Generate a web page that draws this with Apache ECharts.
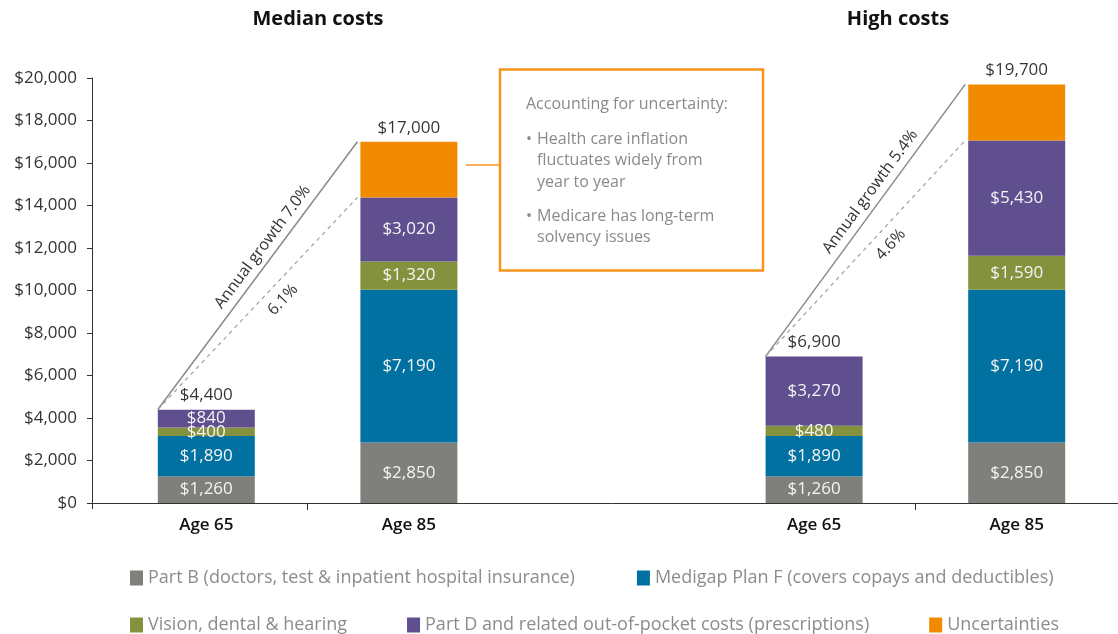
<!DOCTYPE html>
<html>
<head>
<meta charset="utf-8">
<title>Health care costs in retirement</title>
<script src="https://cdn.jsdelivr.net/npm/echarts@6/dist/echarts.min.js"></script>
<style>
  html, body { margin: 0; padding: 0; background: #fff; }
  #main { width: 1118px; height: 634px; }
</style>
</head>
<body>
<div id="main"></div>
<script>
// categories (the empty one is the gap between the two panels)
var ages = ['Age 65', 'Age 85', '', 'Age 65', 'Age 85'];
var panelTitles = ['Median costs', 'High costs'];

// yearly cost by component
var partB = [1260, 2850, null, 1260, 2850];
var medigap = [1890, 7190, null, 1890, 7190];
var vision = [400, 1320, null, 480, 1590];
var partD = [840, 3020, null, 3270, 5430];
var uncertainties = [null, 2620, null, null, 2640];
var totals = [4400, 17000, null, 6900, 19700];

var seriesNames = [
    'Part B (doctors, test & inpatient hospital insurance)',
    'Medigap Plan F (covers copays and deductibles)',
    'Vision, dental & hearing',
    'Part D and related out-of-pocket costs (prescriptions)',
    'Uncertainties'
];
var colors = ['#7f807b', '#0071a1', '#84923e', '#5f4f8e', '#f28a00'];

// growth lines: from / to category index
var growthPairs = [[0, 1], [3, 4]];
var growthSolid = ['Annual growth 7.0%', 'Annual growth 5.4%'];
var growthDashed = ['6.1%', '4.6%'];

var noteTitle = 'Accounting for uncertainty:';
var noteBullets = [
    ['Health care inflation', 'fluctuates widely from', 'year to year'],
    ['Medicare has long-term', 'solvency issues']
];

var yMin = 0, yMax = 20000, yStep = 2000;

var FONT = '"Open Sans", "Noto Sans", sans-serif';
var BAR_W = 97;

function money(v) {
    return '$' + Number(v).toLocaleString('en-US');
}

// top of the stack without the uncertainty part
function subtotal(i) {
    return (partB[i] || 0) + (medigap[i] || 0) + (vision[i] || 0) + (partD[i] || 0);
}

var growthData = growthPairs.map(function (p, k) {
    return [p[0], p[1], totals[p[0]], totals[p[1]], subtotal(p[1]), k];
});

function renderGrowth(params, api) {
    var k = api.value(5);
    var half = BAR_W / 2;
    var a = api.coord([api.value(0), api.value(2)]);
    var b = api.coord([api.value(1), api.value(3)]);
    var c = api.coord([api.value(1), api.value(4)]);
    var x0 = a[0] - half, x1 = b[0] - half - 3;

    function textOn(y1, along, perp, text) {
        var dx = x1 - x0, dy = y1 - a[1];
        var len = Math.sqrt(dx * dx + dy * dy);
        var ux = dx / len, uy = dy / len;
        var nx = uy, ny = -ux; // normal pointing up-left
        var mx = (x0 + x1) / 2, my = (a[1] + y1) / 2;
        return {
            type: 'text',
            x: mx + ux * along + nx * perp,
            y: my + uy * along + ny * perp,
            rotation: Math.atan2(-dy, dx),
            style: {
                text: text, fill: '#333', font: '16px ' + FONT,
                align: 'center', verticalAlign: 'middle'
            }
        };
    }

    return {
        type: 'group',
        children: [
            { type: 'line', shape: { x1: x0, y1: a[1], x2: x1, y2: b[1] },
              style: { stroke: '#8a8a8a', lineWidth: 1.5 } },
            { type: 'line', shape: { x1: x0, y1: a[1], x2: x1, y2: c[1] },
              style: { stroke: '#a0a0a0', lineWidth: 1.2, lineDash: [4, 4] } },
            textOn(b[1], 26, 13, growthSolid[k]),
            textOn(c[1], 20, -16, growthDashed[k])
        ]
    };
}

var stackData = [partB, medigap, vision, partD, uncertainties];

var series = stackData.map(function (arr, i) {
    return {
        name: seriesNames[i],
        type: 'bar',
        stack: 'cost',
        xAxisIndex: 1,
        yAxisIndex: 1,
        barWidth: BAR_W,
        data: arr,
        itemStyle: { color: colors[i] },
        label: {
            show: i < 4,
            position: 'inside',
            color: '#f4f4f4',
            fontSize: 17,
            fontFamily: FONT,
            formatter: function (p) { return money(p.value); }
        },
        silent: true
    };
});

series.push({
    type: 'scatter',
    xAxisIndex: 1,
    yAxisIndex: 1,
    data: totals,
    symbolSize: 1,
    itemStyle: { color: 'rgba(0,0,0,0)' },
    label: {
        show: true,
        position: 'top',
        distance: 5,
        color: '#000',
        fontSize: 17,
        fontFamily: FONT,
        formatter: function (p) { return money(p.value); }
    },
    silent: true
});

series.push({
    type: 'custom',
    xAxisIndex: 1,
    yAxisIndex: 1,
    encode: { x: 0, y: 2 },
    data: growthData,
    renderItem: renderGrowth,
    silent: true,
    z: 5
});

// annotation box
var ORANGE = '#f7941d';
var graphics = [
    { type: 'text', x: 318, y: 19, style: { text: panelTitles[0], font: 'bold 20px ' + FONT, fill: '#111', align: 'center', verticalAlign: 'middle' } },
    { type: 'text', x: 898, y: 19, style: { text: panelTitles[1], font: 'bold 20px ' + FONT, fill: '#111', align: 'center', verticalAlign: 'middle' } },
    { type: 'rect', shape: { x: 500, y: 69.5, width: 263, height: 201 }, style: { fill: '#fff', stroke: ORANGE, lineWidth: 2.5 } },
    { type: 'line', shape: { x1: 466, y1: 165, x2: 499, y2: 165 }, style: { stroke: ORANGE, lineWidth: 1.5 } },
    { type: 'text', x: 526, y: 104, style: { text: noteTitle, font: '16px ' + FONT, fill: '#8a8a8a', verticalAlign: 'middle' } }
];
var lineY = 139;
noteBullets.forEach(function (lines) {
    graphics.push({ type: 'text', x: 526, y: lineY, style: { text: '\u2022', font: '16px ' + FONT, fill: '#8a8a8a', verticalAlign: 'middle' } });
    lines.forEach(function (t) {
        graphics.push({ type: 'text', x: 537, y: lineY, style: { text: t, font: '16px ' + FONT, fill: '#8a8a8a', verticalAlign: 'middle' } });
        lineY += 21.5;
    });
    lineY += 12.5;
});

var chart = echarts.init(document.getElementById('main'), null, { renderer: 'canvas' });
chart.setOption({
    animation: false,
    backgroundColor: '#fff',
    textStyle: { fontFamily: FONT },
    grid: [
        { left: 92, top: 78, width: 13, bottom: 131, outerBoundsMode: 'none' },
        { left: 105, top: 78, right: 0, bottom: 131, outerBoundsMode: 'none' }
    ],
    legend: [
        {
            left: 130, top: 569, padding: 0, itemGap: 62,
            itemWidth: 13, itemHeight: 15, icon: 'rect',
            data: seriesNames.slice(0, 2),
            textStyle: { fontSize: 18, color: '#8c8c8c', fontFamily: FONT },
            selectedMode: false
        },
        {
            left: 130, top: 616, padding: 0, itemGap: 60,
            itemWidth: 13, itemHeight: 15, icon: 'rect',
            data: seriesNames.slice(2),
            textStyle: { fontSize: 18, color: '#8c8c8c', fontFamily: FONT },
            selectedMode: false
        }
    ],
    xAxis: [
        {
            gridIndex: 0, type: 'value', min: 0, max: 1,
            axisLine: { show: true, lineStyle: { color: '#333', width: 1 } },
            axisTick: { show: true, length: 6, customValues: [0], lineStyle: { color: '#333' } },
            axisLabel: { show: false },
            splitLine: { show: false }
        },
        {
            gridIndex: 1, type: 'category', data: ages,
            axisLine: { show: true, lineStyle: { color: '#333', width: 1 } },
            axisTick: {
                show: true, length: 7, lineStyle: { color: '#333' },
                interval: function (i) { return i === 1 || i === 4; }
            },
            axisLabel: { interval: 0, margin: 14, fontSize: 17, fontWeight: 600, color: '#111', fontFamily: FONT }
        }
    ],
    yAxis: [
        {
            gridIndex: 0, type: 'value', min: yMin, max: yMax, interval: yStep,
            axisLine: { show: true, lineStyle: { color: '#333', width: 1 } },
            axisTick: { show: true, length: 5, lineStyle: { color: '#333' } },
            splitLine: { show: false },
            axisLabel: { margin: 15, fontSize: 17, color: '#333', fontFamily: FONT, formatter: money }
        },
        {
            gridIndex: 1, type: 'value', min: yMin, max: yMax, interval: yStep,
            show: false, splitLine: { show: false }
        }
    ],
    graphic: graphics,
    series: series
});
</script>
</body>
</html>
